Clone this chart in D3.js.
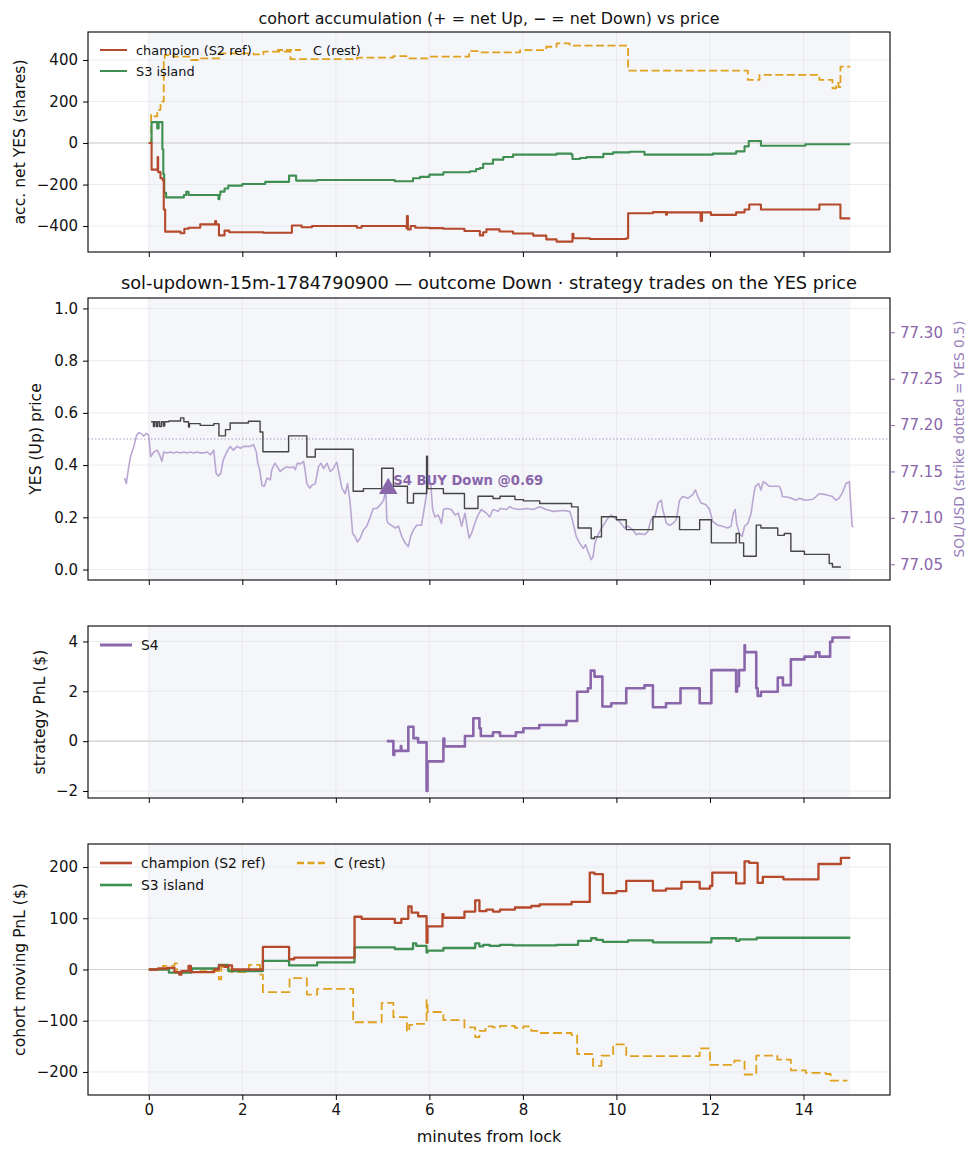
<!DOCTYPE html>
<html>
<head>
<meta charset="utf-8">
<script src="https://cdn.jsdelivr.net/npm/d3@7"></script>
<style>
  body { margin: 0; background: #fff; }
  svg { font-family: "DejaVu Sans", sans-serif; }
</style>
</head>
<body>
<svg id="chart" width="978" height="1156"></svg>
<script>
// ---- data (minutes from lock, value) ----
const xTicks = [0, 2, 4, 6, 8, 10, 12, 14];

const accChampion = [[0,0],[0.06,-128],[0.18,-130],[0.19,-67],[0.2,-140],[0.25,-170],[0.3,-180],[0.32,-320],[0.35,-427],[0.68,-435],[0.76,-413],[0.85,-408],[1.1,-392],[1.42,-376],[1.44,-392],[1.5,-445],[1.62,-422],[1.72,-430],[2.45,-432],[3.06,-397],[3.27,-406],[3.49,-400],[4.45,-408],[4.55,-400],[5.51,-410],[5.52,-352],[5.54,-416],[5.6,-400],[5.7,-408],[6.0,-410],[6.3,-413],[6.75,-424],[7.08,-445],[7.15,-430],[7.22,-416],[7.5,-426],[7.79,-436],[8.22,-446],[8.5,-464],[8.72,-475],[9.06,-437],[9.08,-459],[9.43,-462],[10.21,-459],[10.25,-338],[10.78,-333],[11.06,-345],[11.08,-334],[11.78,-334],[11.8,-375],[11.83,-334],[12.02,-346],[12.56,-334],[12.74,-320],[12.84,-296],[13.09,-320],[14.34,-296],[14.79,-363],[15.0,-363]];
const accIsland = [[0,0],[0.06,101],[0.18,70],[0.21,101],[0.29,-30],[0.31,-150],[0.33,-240],[0.37,-262],[0.75,-250],[0.8,-235],[0.85,-250],[1.49,-270],[1.51,-250],[1.53,-234],[1.62,-219],[1.7,-205],[2.0,-197],[2.49,-187],[3.0,-157],[3.15,-181],[3.6,-178],[5.26,-184],[5.65,-170],[5.8,-163],[6.0,-152],[6.3,-141],[6.87,-136],[7.0,-125],[7.08,-120],[7.15,-100],[7.36,-80],[7.58,-67],[7.79,-56],[8.72,-51],[9.04,-56],[9.06,-77],[9.22,-72],[9.36,-68],[9.72,-52],[9.93,-45],[10.28,-42],[10.6,-56],[12.06,-51],[12.56,-40],[12.74,-16],[12.83,10],[13.09,-13],[14.04,-6],[15.0,-6]];
const accRest = [[0,0],[0.05,136],[0.08,128],[0.18,160],[0.25,200],[0.32,408],[0.34,424],[0.53,416],[0.89,400],[1.1,408],[1.53,432],[2.24,427],[2.45,440],[3.03,404],[4.45,412],[5.23,419],[5.51,408],[6.0,416],[6.85,443],[7.08,437],[7.94,448],[8.5,464],[8.72,480],[9.0,469],[10.25,349],[12.81,304],[13.06,328],[14.34,304],[14.62,264],[14.7,290],[14.75,270],[14.79,368],[15.0,368]];

const yesPrice = [[0.05,0.566],[0.1,0.548],[0.12,0.566],[0.16,0.548],[0.19,0.566],[0.23,0.548],[0.27,0.566],[0.31,0.55],[0.34,0.566],[0.43,0.569],[0.68,0.581],[0.75,0.566],[0.85,0.546],[0.87,0.559],[1.1,0.552],[1.39,0.559],[1.5,0.512],[1.64,0.536],[1.74,0.561],[2.13,0.568],[2.38,0.527],[2.44,0.451],[2.99,0.512],[3.38,0.431],[3.56,0.461],[4.37,0.3],[4.59,0.31],[4.98,0.388],[5.23,0.319],[5.53,0.255],[5.66,0.291],[5.94,0.434],[5.96,0.31],[6.3,0.291],[6.75,0.234],[7.04,0.281],[7.36,0.272],[7.51,0.281],[7.83,0.268],[8.01,0.263],[8.36,0.253],[9.04,0.24],[9.18,0.159],[9.46,0.119],[9.53,0.125],[9.68,0.202],[10.0,0.191],[10.21,0.153],[10.78,0.202],[11.35,0.153],[11.78,0.191],[12.03,0.102],[12.56,0.138],[12.63,0.102],[12.72,0.051],[12.99,0.17],[13.09,0.159],[13.45,0.131],[13.59,0.138],[13.73,0.07],[14.02,0.058],[14.55,0.023],[14.62,0.01],[14.8,0.01]];

const solPrice = [[-0.52,77.143],[-0.48,77.137],[-0.43,77.155],[-0.39,77.166],[-0.32,77.177],[-0.26,77.189],[-0.21,77.192],[-0.14,77.190],[-0.11,77.188],[-0.05,77.191],[0.0,77.189],[0.04,77.166],[0.11,77.171],[0.18,77.173],[0.23,77.168],[0.28,77.161],[0.32,77.171],[0.39,77.170],[0.46,77.171],[0.53,77.170],[0.6,77.171],[0.68,77.170],[0.75,77.171],[0.82,77.170],[0.89,77.171],[0.96,77.170],[1.03,77.171],[1.1,77.170],[1.17,77.170],[1.25,77.171],[1.32,77.168],[1.39,77.173],[1.44,77.148],[1.49,77.145],[1.54,77.148],[1.59,77.162],[1.64,77.168],[1.69,77.173],[1.74,77.177],[1.81,77.173],[1.89,77.177],[1.96,77.175],[2.03,77.177],[2.1,77.177],[2.17,77.177],[2.24,77.179],[2.3,77.171],[2.33,77.159],[2.37,77.152],[2.42,77.135],[2.47,77.134],[2.53,77.143],[2.6,77.141],[2.63,77.152],[2.7,77.159],[2.75,77.155],[2.81,77.150],[2.88,77.153],[2.95,77.155],[3.02,77.154],[3.09,77.155],[3.13,77.152],[3.18,77.159],[3.24,77.158],[3.31,77.161],[3.34,77.152],[3.38,77.137],[3.44,77.132],[3.49,77.135],[3.56,77.137],[3.63,77.155],[3.68,77.159],[3.74,77.153],[3.81,77.159],[3.88,77.150],[3.93,77.152],[4.02,77.160],[4.06,77.150],[4.13,77.132],[4.2,77.126],[4.25,77.137],[4.3,77.119],[4.36,77.083],[4.41,77.080],[4.46,77.074],[4.52,77.078],[4.59,77.087],[4.66,77.091],[4.73,77.100],[4.8,77.110],[4.87,77.110],[4.95,77.114],[5.02,77.119],[5.07,77.130],[5.09,77.098],[5.12,77.094],[5.19,77.092],[5.27,77.089],[5.34,77.091],[5.41,77.080],[5.48,77.073],[5.55,77.069],[5.6,77.080],[5.66,77.087],[5.73,77.092],[5.83,77.092],[5.91,77.116],[5.98,77.137],[6.03,77.137],[6.07,77.109],[6.12,77.101],[6.19,77.103],[6.26,77.094],[6.3,77.109],[6.37,77.110],[6.47,77.109],[6.55,77.103],[6.62,77.105],[6.69,77.091],[6.76,77.105],[6.85,77.078],[6.9,77.083],[6.97,77.094],[7.04,77.103],[7.11,77.109],[7.22,77.105],[7.29,77.101],[7.36,77.109],[7.47,77.107],[7.51,77.110],[7.65,77.109],[7.72,77.112],[7.79,77.110],[7.93,77.109],[8.08,77.110],[8.22,77.109],[8.36,77.112],[8.5,77.109],[8.65,77.107],[8.86,77.108],[9.0,77.107],[9.04,77.101],[9.09,77.091],[9.14,77.080],[9.21,77.073],[9.29,77.067],[9.34,77.071],[9.39,77.064],[9.46,77.055],[9.5,77.058],[9.54,77.073],[9.61,77.082],[9.68,77.089],[9.75,77.094],[9.82,77.100],[9.89,77.103],[9.96,77.100],[10.03,77.098],[10.1,77.094],[10.17,77.089],[10.25,77.091],[10.35,77.087],[10.42,77.082],[10.49,77.083],[10.6,77.082],[10.67,77.085],[10.74,77.098],[10.82,77.101],[10.89,77.116],[10.96,77.119],[10.99,77.109],[11.07,77.094],[11.14,77.092],[11.21,77.094],[11.28,77.098],[11.35,77.119],[11.42,77.123],[11.53,77.121],[11.63,77.125],[11.69,77.130],[11.74,77.123],[11.81,77.116],[11.92,77.114],[11.99,77.109],[12.06,77.096],[12.17,77.092],[12.27,77.091],[12.38,77.089],[12.45,77.091],[12.5,77.105],[12.54,77.109],[12.57,77.094],[12.63,77.083],[12.69,77.080],[12.74,77.091],[12.81,77.094],[12.88,77.105],[12.93,77.123],[12.97,77.134],[13.04,77.137],[13.09,77.130],[13.14,77.139],[13.2,77.137],[13.27,77.134],[13.41,77.134],[13.48,77.134],[13.52,77.130],[13.55,77.123],[13.7,77.122],[13.84,77.119],[13.91,77.121],[14.05,77.119],[14.2,77.120],[14.27,77.123],[14.34,77.126],[14.48,77.125],[14.62,77.123],[14.69,77.119],[14.76,77.121],[14.84,77.128],[14.91,77.137],[14.98,77.139],[15.0,77.123],[15.04,77.091],[15.07,77.090]];

const strikeYes = 0.5;
const buyTrade = { t: 5.12, yes: 0.31, label: "S4 BUY Down @0.69" };

const s4Pnl = [[5.09,0],[5.2,0],[5.23,-0.55],[5.25,-0.39],[5.39,-0.2],[5.4,-0.39],[5.53,-0.39],[5.55,0.58],[5.66,0.12],[5.76,-0.05],[5.94,-2.0],[5.96,-0.81],[6.3,0.1],[6.32,-0.21],[6.76,0.21],[6.94,0.92],[7.07,0.52],[7.1,0.21],[7.36,0.36],[7.51,0.21],[7.85,0.36],[8.01,0.52],[8.35,0.65],[8.93,0.81],[9.16,1.98],[9.39,2.12],[9.45,2.83],[9.53,2.59],[9.7,1.39],[9.89,1.52],[10.21,2.12],[10.6,2.24],[10.78,1.36],[11.06,1.52],[11.37,2.12],[11.78,1.52],[12.03,2.85],[12.56,1.98],[12.58,2.21],[12.62,2.85],[12.74,3.85],[12.75,3.57],[12.99,2.12],[13.02,1.81],[13.09,1.98],[13.45,2.55],[13.56,2.25],[13.73,3.28],[14.02,3.39],[14.26,3.56],[14.34,3.39],[14.57,3.99],[14.62,4.16],[15.0,4.16]];

const pnlChampion = [[0,0],[0.2,2],[0.4,3],[0.55,-5],[0.65,-10],[0.7,-3],[0.85,7],[0.9,-5],[1.4,0],[1.5,8],[1.62,5],[1.7,8],[1.78,0],[2.44,44],[3.0,20],[3.11,23],[4.4,103],[4.55,99],[5.26,91],[5.4,99],[5.55,123],[5.62,111],[5.76,104],[5.94,52],[5.96,84],[6.28,108],[6.3,101],[6.75,113],[6.98,135],[7.07,114],[7.22,117],[7.36,113],[7.51,117],[7.83,121],[8.18,124],[8.36,127],[9.04,132],[9.43,189],[9.53,186],[9.71,149],[10.0,153],[10.21,173],[10.78,154],[11.06,158],[11.39,171],[11.78,158],[12.0,163],[12.05,189],[12.56,168],[12.74,211],[12.84,208],[13.02,169],[13.13,181],[13.57,176],[14.32,206],[14.8,218],[15.0,218]];
const pnlIsland = [[0,0],[0.43,-6],[0.92,2],[1.5,9],[1.7,-3],[2.44,17],[3.0,8],[3.6,14],[4.4,43],[5.26,40],[5.65,51],[5.72,46],[5.94,33],[5.96,37],[6.3,42],[6.98,51],[7.07,45],[7.15,48],[7.29,46],[7.51,48],[7.79,47],[8.72,48],[9.18,56],[9.46,61],[9.57,58],[9.71,54],[10.25,57],[10.78,53],[12.03,61],[12.56,56],[12.63,59],[13.0,62],[15.0,62]];
const pnlRest = [[0,0],[0.3,7],[0.55,12],[0.6,-5],[0.85,-5],[1.1,-3],[1.5,-19],[1.55,5],[1.7,0],[1.76,-5],[2.14,9],[2.38,-10],[2.44,-44],[3.01,-17],[3.38,-49],[3.6,-38],[4.37,-103],[4.98,-65],[5.23,-93],[5.52,-121],[5.57,-108],[5.66,-106],[5.94,-60],[5.96,-83],[6.3,-99],[6.75,-113],[6.98,-132],[7.07,-120],[7.2,-111],[7.36,-113],[7.51,-110],[7.83,-114],[8.01,-111],[8.18,-120],[8.36,-124],[9.04,-128],[9.16,-165],[9.5,-188],[9.68,-168],[9.93,-146],[10.21,-169],[11.78,-154],[12.0,-186],[12.52,-178],[12.74,-205],[12.99,-168],[13.44,-176],[13.73,-197],[14.05,-202],[14.48,-204],[14.58,-217],[14.94,-217]];

// ---- setup ----
const C = {
  champion: '#b4492b', island: '#3f8f52', rest: '#dfa11e', s4: '#8a66ab',
  price: '#454545', sol: '#b9a6d3', shade: '#f5f6fa', grid: '#e6e6ea', zero: '#d2d2d2'
};
const TICK_FS = 15, LABEL_FS = 15.6;
const svg = d3.select('#chart');
const left = 88, right = 890;
const x = d3.scaleLinear().domain([-1.3, 15.85]).range([left, right]);
const fmt = f => v => d3.format(f)(v).replace('-', '\u2212');
const stepLine = (xs, ys) => d3.line().x(d => xs(d[0])).y(d => ys(d[1])).curve(d3.curveStepAfter);

let clipId = 0;
function panel(top, bottom, domain, yTicks, tickFmt, showX) {
  const y = d3.scaleLinear().domain(domain).range([bottom, top]);
  const g = svg.append('g');
  const id = 'clip' + (clipId++);
  g.append('clipPath').attr('id', id).append('rect')
    .attr('x', left).attr('y', top).attr('width', right - left).attr('height', bottom - top);
  // shaded lock window
  g.append('rect').attr('x', x(0)).attr('y', top).attr('width', x(15) - x(0)).attr('height', bottom - top)
    .attr('fill', C.shade);
  // grid
  g.selectAll('.gx').data(xTicks).enter().append('line')
    .attr('x1', d => x(d)).attr('x2', d => x(d)).attr('y1', top).attr('y2', bottom)
    .attr('stroke', C.grid).attr('stroke-width', 0.8);
  g.selectAll('.gy').data(yTicks).enter().append('line')
    .attr('x1', left).attr('x2', right).attr('y1', d => y(d)).attr('y2', d => y(d))
    .attr('stroke', C.grid).attr('stroke-width', 0.8);
  const plot = g.append('g').attr('clip-path', `url(#${id})`);
  const axes = svg.append('g').attr('class', 'axes');
  axes.append('g').attr('transform', `translate(${left},0)`)
    .call(d3.axisLeft(y).tickValues(yTicks).tickSize(5).tickPadding(5).tickFormat(tickFmt));
  axes.append('g').attr('transform', `translate(0,${bottom})`)
    .call(d3.axisBottom(x).tickValues(xTicks).tickSize(5).tickPadding(4)
      .tickFormat(showX ? d3.format('d') : ''));
  axes.selectAll('.domain').remove();
  axes.append('rect').attr('x', left).attr('y', top).attr('width', right - left).attr('height', bottom - top)
    .attr('fill', 'none').attr('stroke', '#000').attr('stroke-width', 1.1);
  axes.selectAll('.tick line').attr('stroke', '#000');
  axes.selectAll('.tick text').attr('font-size', TICK_FS).attr('fill', '#111')
    .attr('font-family', '"DejaVu Sans", sans-serif');
  return { y, plot, top, bottom };
}

function zeroLine(p) {
  p.plot.append('line').attr('x1', left).attr('x2', right)
    .attr('y1', p.y(0)).attr('y2', p.y(0)).attr('stroke', C.zero).attr('stroke-width', 1.1);
}
function series(p, data, color, width, dash) {
  p.plot.append('path').datum(data).attr('d', stepLine(x, p.y))
    .attr('fill', 'none').attr('stroke', color).attr('stroke-width', width)
    .attr('stroke-dasharray', dash || null).attr('stroke-linejoin', 'round');
}
function yLabel(text, cx, p) {
  svg.append('text').attr('transform', `translate(${cx},${(p.top + p.bottom) / 2}) rotate(-90)`)
    .attr('text-anchor', 'middle').attr('dominant-baseline', 'central')
    .attr('font-size', LABEL_FS).attr('fill', '#111').text(text);
}
function legend(items, fs, lw) {
  items.forEach(it => {
    svg.append('line').attr('x1', it.x).attr('x2', it.x + it.len).attr('y1', it.y).attr('y2', it.y)
      .attr('stroke', it.color).attr('stroke-width', lw).attr('stroke-dasharray', it.dash || null);
    svg.append('text').attr('x', it.x + it.len + 9).attr('y', it.y).attr('dominant-baseline', 'central')
      .attr('font-size', fs).attr('fill', '#111').text(it.label);
  });
}

// ---- panel 1: cohort accumulation ----
const p1 = panel(32, 252, [-525, 535], [-400, -200, 0, 200, 400], fmt('d'), false);
zeroLine(p1);
series(p1, accRest, C.rest, 1.8, '8,3.5');
series(p1, accIsland, C.island, 2.1);
series(p1, accChampion, C.champion, 2.1);
svg.append('text').attr('x', (left + right) / 2).attr('y', 18).attr('text-anchor', 'middle')
  .attr('dominant-baseline', 'central').attr('font-size', 15.9).attr('fill', '#111')
  .text('cohort accumulation (+ = net Up, \u2212 = net Down) vs price');
yLabel('acc. net YES (shares)', 20, p1);
legend([
  { x: 100, y: 50, len: 27, color: C.champion, label: 'champion (S2 ref)' },
  { x: 100, y: 71, len: 27, color: C.island, label: 'S3 island' },
  { x: 277, y: 50, len: 27, color: C.rest, label: 'C (rest)', dash: '6,3' }
], 12.9, 2);

// ---- panel 2: YES price & SOL ----
const p2 = panel(298, 580, [-0.04, 1.04], [0, 0.2, 0.4, 0.6, 0.8, 1.0], fmt('.1f'), false);
const ySol = d3.scaleLinear().domain([77.033, 77.337]).range([580, 298]);
p2.plot.append('line').attr('x1', left).attr('x2', right)
  .attr('y1', p2.y(strikeYes)).attr('y2', p2.y(strikeYes))
  .attr('stroke', '#a99bbf').attr('stroke-width', 1).attr('stroke-dasharray', '1.5,2');
p2.plot.append('path').datum(solPrice)
  .attr('d', d3.line().x(d => x(d[0])).y(d => ySol(d[1])))
  .attr('fill', 'none').attr('stroke', C.sol).attr('stroke-width', 1.6).attr('stroke-linejoin', 'round');
series(p2, yesPrice, C.price, 1.4);
const bx = x(buyTrade.t), by = p2.y(buyTrade.yes);
p2.plot.append('path').attr('d', d3.symbol().type(d3.symbolTriangle).size(150)())
  .attr('transform', `translate(${bx},${by})`).attr('fill', C.s4);
svg.append('text').attr('x', bx + 5).attr('y', by - 8).attr('dominant-baseline', 'central')
  .attr('font-size', 13.2).attr('font-weight', 'bold').attr('fill', C.s4).text(buyTrade.label);
const rAxis = svg.append('g').attr('transform', `translate(${right},0)`)
  .call(d3.axisRight(ySol).tickValues([77.05, 77.10, 77.15, 77.20, 77.25, 77.30]).tickSize(5).tickPadding(5)
    .tickFormat(d3.format('.2f')));
rAxis.select('.domain').remove();
rAxis.selectAll('.tick line').attr('stroke', C.s4);
rAxis.selectAll('.tick text').attr('font-size', TICK_FS).attr('fill', C.s4)
  .attr('font-family', '"DejaVu Sans", sans-serif');
svg.append('text').attr('x', (left + right) / 2).attr('y', 282).attr('text-anchor', 'middle')
  .attr('dominant-baseline', 'central').attr('font-size', 17.8).attr('fill', '#111')
  .text('sol-updown-15m-1784790900 \u2014 outcome Down \u00b7 strategy trades on the YES price');
yLabel('YES (Up) price', 36, p2);
svg.append('text').attr('transform', `translate(959,439) rotate(-90)`)
  .attr('text-anchor', 'middle').attr('dominant-baseline', 'central')
  .attr('font-size', 13.8).attr('fill', '#9a7fbb').text('SOL/USD (strike dotted = YES 0.5)');

// ---- panel 3: strategy PnL ----
const p3 = panel(626, 798, [-2.28, 4.62], [-2, 0, 2, 4], fmt('d'), false);
zeroLine(p3);
series(p3, s4Pnl, C.s4, 2.6);
yLabel('strategy PnL ($)', 40, p3);
legend([{ x: 100, y: 645, len: 32, color: C.s4, label: 'S4' }], 13.9, 3);

// ---- panel 4: cohort moving PnL ----
const p4 = panel(844, 1095, [-245, 245], [-200, -100, 0, 100, 200], fmt('d'), true);
zeroLine(p4);
series(p4, pnlRest, C.rest, 1.8, '9,4');
series(p4, pnlIsland, C.island, 2.3);
series(p4, pnlChampion, C.champion, 2.3);
yLabel('cohort moving PnL ($)', 20, p4);
legend([
  { x: 100, y: 863, len: 32, color: C.champion, label: 'champion (S2 ref)' },
  { x: 100, y: 885, len: 32, color: C.island, label: 'S3 island' },
  { x: 297, y: 863, len: 28, color: C.rest, label: 'C (rest)', dash: '7,3.5' }
], 13.9, 2.6);
svg.append('text').attr('x', (left + right) / 2).attr('y', 1136).attr('text-anchor', 'middle')
  .attr('dominant-baseline', 'central').attr('font-size', 16).attr('fill', '#111').text('minutes from lock');
</script>
</body>
</html>
